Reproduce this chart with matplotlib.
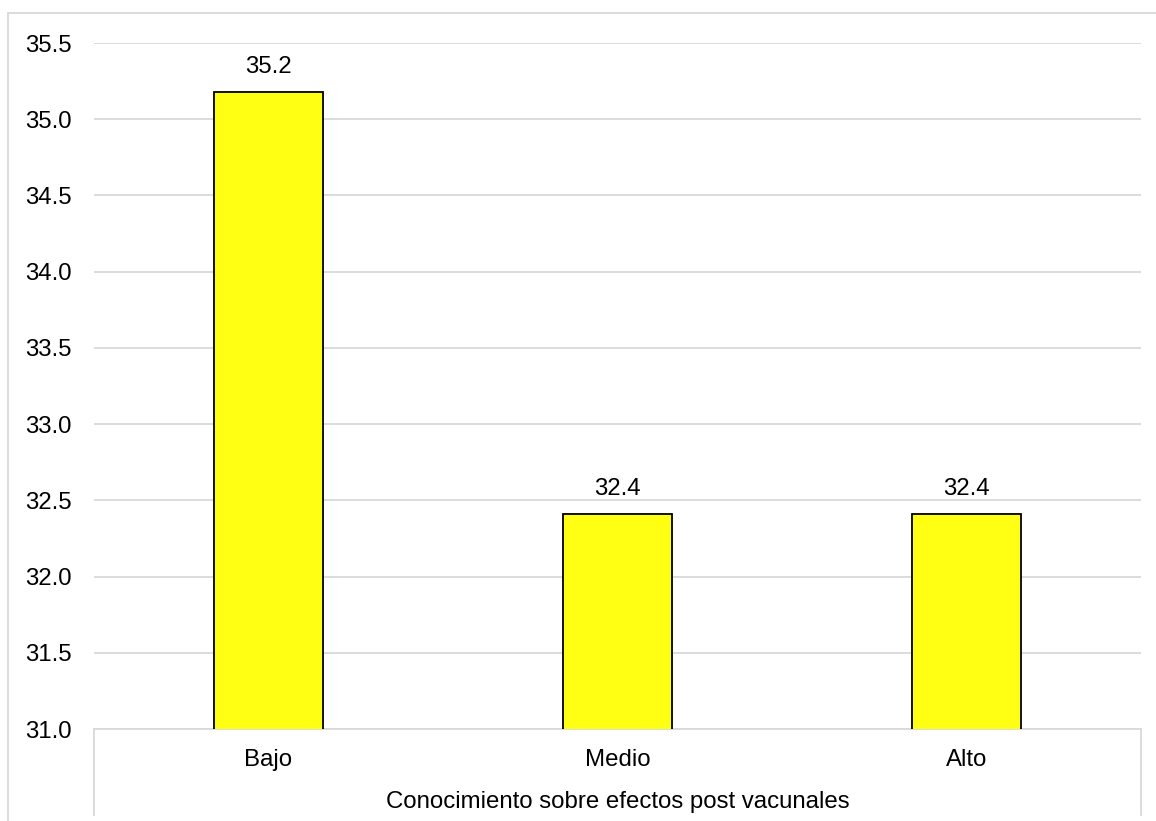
import matplotlib
matplotlib.use("Agg")
import matplotlib.pyplot as plt
from matplotlib.lines import Line2D

plt.rcParams['font.family'] = ['Liberation Sans', 'DejaVu Sans']

categories = ["Bajo", "Medio", "Alto"]
values = [35.18, 32.41, 32.41]
y_ticks = [31.0, 31.5, 32.0, 32.5, 33.0, 33.5, 34.0, 34.5, 35.0, 35.5]
x_title = "Conocimiento sobre efectos post vacunales"

W, H = 1156, 821
fig = plt.figure(figsize=(W / 100, H / 100), dpi=100)
grid_col = "#d9d9d9"
fs = 17.3

left, right, bottom, top = 94, 1141, 729, 43
ax = fig.add_axes([left / W, (H - bottom) / H, (right - left) / W, (bottom - top) / H])

x = range(len(categories))
bars = ax.bar(x, values, width=0.315, color="#ffff14", edgecolor="black",
              linewidth=1.3, zorder=3)
for b, v in zip(bars, values):
    ax.annotate(f"{v:.1f}", (b.get_x() + b.get_width() / 2, v),
                xytext=(0, 10), textcoords="offset points",
                ha="center", va="bottom", fontsize=fs, color="black")

ax.set_xlim(-0.5, len(categories) - 0.5)
ax.set_ylim(31.0, 35.5)
ax.set_yticks(y_ticks)
ax.set_yticklabels([f"{t:.1f}" for t in y_ticks])
ax.set_xticks(list(x))
ax.set_xticklabels(categories)
ax.tick_params(axis="y", length=0, pad=16, labelsize=fs)
ax.tick_params(axis="x", length=0, pad=14.5, labelsize=fs)
ax.yaxis.grid(True, color=grid_col, linewidth=1.3, zorder=0)
ax.set_axisbelow(True)
for s in ["left", "right", "top"]:
    ax.spines[s].set_visible(False)
ax.spines["bottom"].set_color(grid_col)
ax.spines["bottom"].set_linewidth(1.3)
ax.set_xlabel(x_title, fontsize=fs, labelpad=14)

def px_line(x0, y0, x1, y1):
    fig.add_artist(Line2D([x0 / W, x1 / W], [1 - y0 / H, 1 - y1 / H],
                          color=grid_col, linewidth=1.3))

# category axis box
px_line(left, bottom, left, 815)
px_line(right, bottom, right, 815)
# outer chart frame
px_line(8, 13, W, 13)
px_line(8, 13, 8, H)

fig.savefig("out.png", dpi=100, facecolor="white")
